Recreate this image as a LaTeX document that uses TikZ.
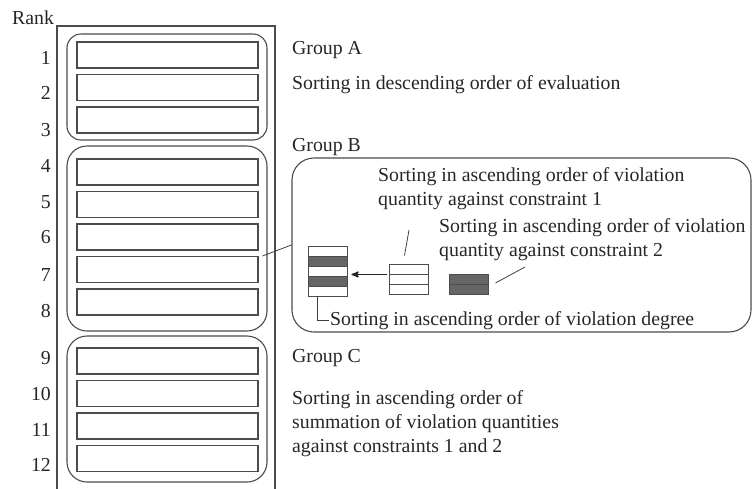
\documentclass[tikz,border=0pt]{standalone}
\usepackage{fontspec}
\setmainfont{Liberation Serif}
\usetikzlibrary{arrows}

\begin{document}
\begin{tikzpicture}[x=1pt,y=-1pt,->,>=stealth',
    every node/.style={font=\fontsize{19.8}{24}\selectfont, text=black!85},
    rankrow/.style={rectangle, draw=black!70, line width=1.1pt,
        minimum width=181pt, minimum height=26pt, inner sep=0pt},
    ranknum/.style={anchor=base east, inner sep=0pt},
    grp/.style={rectangle, draw=black!70, line width=1.1pt, inner sep=0pt},
    stripe/.style={rectangle, draw=black!70, line width=0.9pt, fill=white,
        minimum width=39pt, minimum height=10pt, inner sep=0pt},
    darkstripe/.style={stripe, fill=black!60},
    lbl/.style={anchor=base west, inner sep=0pt, align=left},
    leader/.style={-, draw=black!75, line width=0.8pt}
    ]

    \useasboundingbox (0,0) rectangle (753,488);

    % column of ranks
    \node[rectangle,
          draw = black!70,
          line width = 1.1pt,
          minimum width = 218pt,
          minimum height = 466pt
          ] (rankbox) at (166,259) {};
    \node[lbl] (rank) at (12,24) {Rank};

    \node[grp, rounded corners=14pt, minimum width=200pt, minimum height=106pt] (grpA) at (167,87) {};
    \node[grp, rounded corners=20pt, minimum width=200pt, minimum height=185pt] (grpB) at (167,238.5) {};
    \node[grp, rounded corners=20pt, minimum width=200pt, minimum height=146pt] (grpC) at (167,409) {};

    \node[rankrow] (row1) at (167.5,55) {};
    \node[rankrow] (row2) at (167.5,87.5) {};
    \node[rankrow] (row3) at (167.5,120) {};
    \node[rankrow] (row4) at (167.5,172) {};
    \node[rankrow] (row5) at (167.5,204.5) {};
    \node[rankrow] (row6) at (167.5,237) {};
    \node[rankrow] (row7) at (167.5,269.5) {};
    \node[rankrow] (row8) at (167.5,302) {};
    \node[rankrow] (row9) at (167.5,361) {};
    \node[rankrow] (row10) at (167.5,393.5) {};
    \node[rankrow] (row11) at (167.5,426) {};
    \node[rankrow] (row12) at (167.5,458.5) {};

    \node[ranknum] (num1) at (51,64) {1};
    \node[ranknum] (num2) at (51,99.5) {2};
    \node[ranknum] (num3) at (51,136) {3};
    \node[ranknum] (num4) at (51,172) {4};
    \node[ranknum] (num5) at (51,208.5) {5};
    \node[ranknum] (num6) at (51,243.5) {6};
    \node[ranknum] (num7) at (51,281) {7};
    \node[ranknum] (num8) at (51,317) {8};
    \node[ranknum] (num9) at (51,364) {9};
    \node[ranknum] (num10) at (51,400) {10};
    \node[ranknum] (num11) at (51,436) {11};
    \node[ranknum] (num12) at (51,471) {12};

    % group texts
    \node[lbl] (nameA) at (292,54.5) {Group A};
    \node[lbl] (sortA) at (292,89.5) {Sorting in descending order of evaluation};
    \node[lbl] (nameB) at (292,151.5) {Group B};
    \node[lbl] (nameC) at (292,362.5) {Group C};
    \node[lbl] (sortC) at (292,452) {Sorting in ascending order of\\summation of violation quantities\\against constraints 1 and 2};

    % group B detail
    \node[rectangle,
          draw = black!70,
          line width = 1.1pt,
          rounded corners = 22pt,
          minimum width = 459pt,
          minimum height = 174pt
          ] (panel) at (521.5,245) {};

    \node[stripe] (mrg1) at (327.5,251) {};
    \node[darkstripe] (mrg2) at (327.5,261) {};
    \node[stripe] (mrg3) at (327.5,271) {};
    \node[darkstripe] (mrg4) at (327.5,281) {};
    \node[stripe] (mrg5) at (327.5,291) {};

    \node[stripe] (cOne1) at (408.5,269) {};
    \node[stripe] (cOne2) at (408.5,279) {};
    \node[stripe] (cOne3) at (408.5,289) {};

    \node[darkstripe] (cTwo1) at (468.5,279) {};
    \node[darkstripe] (cTwo2) at (468.5,289) {};

    \node[lbl] (sortOne) at (378,205) {Sorting in ascending order of violation\\quantity against constraint 1};
    \node[lbl] (sortTwo) at (439,256) {Sorting in ascending order of violation\\quantity against constraint 2};
    \node[lbl, inner sep=1pt] (sortDeg) at (329,325) {Sorting in ascending order of violation degree};

    \coordinate (tipOne) at (409,230);
    \coordinate (tipTwo) at (525,267);

    \path[every node/.style={font=\sffamily\small}]
    %rank 7 to group B
    ([xshift=4pt]row7.north east) edge [leader] (panel.west)
    %merging
    ([xshift=-2pt]cOne1.south west) edge [line width=1.5pt, draw=black!85] ([xshift=4pt]mrg3.north east |- cOne1.south west)
    ([xshift=-4pt,yshift=8pt]cOne1.north) edge [leader] (tipOne)
    ([xshift=7pt,yshift=-4pt]cTwo1.east) edge [leader] (tipTwo);

    \draw[leader] ([xshift=-10pt]mrg5.south) |- (sortDeg.west);

\end{tikzpicture}
\end{document}
